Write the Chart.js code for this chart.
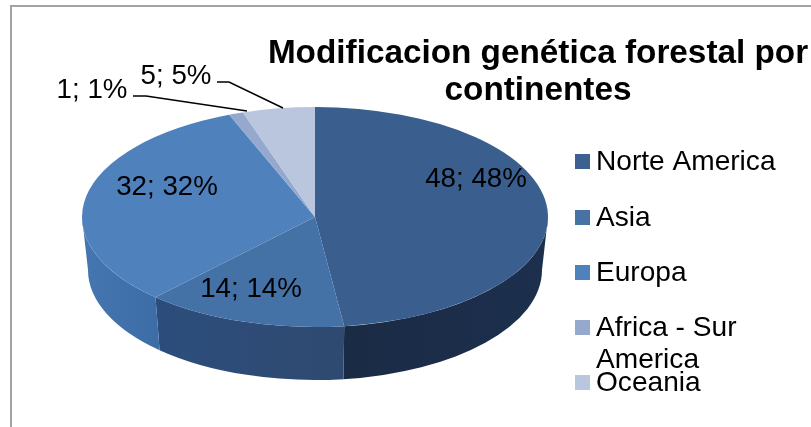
<!DOCTYPE html>
<html>
<head>
<meta charset="utf-8">
<script src="https://cdn.jsdelivr.net/npm/chart.js@4"></script>
<style>
html,body{margin:0;padding:0;background:#fff}
#wrap{position:relative;width:811px;height:427px}
</style>
</head>
<body>
<div id="wrap"><canvas id="c" width="811" height="427"></canvas></div>
<script>
const categories = ['Norte America', 'Asia', 'Europa', 'Africa - Sur America', 'Oceania'];
const legendLines = [['Norte America'], ['Asia'], ['Europa'], ['Africa - Sur', 'America'], ['Oceania']];
const values = [48, 14, 32, 1, 5];
const topColors = ['#3a5f8f', '#4472a7', '#4f81bd', '#95a9cf', '#b9c6de'];
const legendColors = ['#3c6090', '#4672a6', '#4f81bd', '#95a9cf', '#b9c6de'];
const titleLines = ['Modificacion genética forestal por', 'continentes'];

const FONT = '"Liberation Sans", Arial, sans-serif';
const RX = 233, RY = 110, DEPTH = 53, RX_LOW = 227;
const labelSpots = [[476, 187], [251, 297], [167, 195], [92, 98], [176, 84]];
const leaders = [null, null, null, [[133, 96], [146, 96], [247, 111]], [[217, 82], [229, 82], [283, 108]]];
const legendRows = [169, 225, 280, 335, 390];
const wallStops = [
  [[0, '#1c2f4d'], [1, '#1a2b45']],
  [[0, '#2f4a70'], [1, '#2c4d7c']],
  [[0, '#3d6da6'], [1, '#4676b0']]
];

const pseudo3d = {
  id: 'pseudo3d',
  beforeDatasetsDraw(chart) {
    const ctx = chart.ctx, arcs = chart.getDatasetMeta(0).data;
    const cx = arcs[0].x, cy = arcs[0].y, sx = RX / arcs[0].outerRadius;
    ctx.save();
    ctx.strokeStyle = '#a3a3a3';
    ctx.lineWidth = 2;
    ctx.beginPath();
    ctx.moveTo(11, 427); ctx.lineTo(11, 6); ctx.lineTo(811, 6);
    ctx.stroke();
    arcs.forEach((arc, i) => {
      const a0 = Math.max(arc.startAngle, 0), a1 = Math.min(arc.endAngle, Math.PI);
      if (a1 <= a0 || !wallStops[i]) return;
      const x0 = cx + RX * Math.cos(a0), x1 = cx + RX * Math.cos(a1);
      const g = ctx.createLinearGradient(x0, 0, x1, 0);
      wallStops[i].forEach(s => g.addColorStop(s[0], s[1]));
      ctx.fillStyle = g;
      ctx.beginPath();
      ctx.ellipse(cx, cy, RX, RY, 0, a0, a1, false);
      ctx.ellipse(cx, cy + DEPTH, RX_LOW, RY, 0, a1, a0, true);
      ctx.closePath();
      ctx.fill();
    });
    ctx.restore();
    ctx.save();
    ctx.translate(cx, cy);
    ctx.scale(sx, 1);
    ctx.translate(-cx, -cy);
  },
  afterDatasetsDraw(chart) {
    const ctx = chart.ctx;
    ctx.restore();
    ctx.save();
    ctx.fillStyle = '#000';
    ctx.textBaseline = 'alphabetic';

    ctx.textAlign = 'center';
    ctx.font = 'bold 33.3px ' + FONT;
    ctx.fillText(titleLines[0], 538, 63);
    ctx.fillText(titleLines[1], 538, 100);

    ctx.font = '27.7px ' + FONT;
    values.forEach((v, i) => {
      ctx.fillText(v + '; ' + v + '%', labelSpots[i][0], labelSpots[i][1]);
      const l = leaders[i];
      if (l) {
        ctx.strokeStyle = '#000';
        ctx.lineWidth = 1.5;
        ctx.beginPath();
        l.forEach((p, k) => k ? ctx.lineTo(p[0], p[1]) : ctx.moveTo(p[0], p[1]));
        ctx.stroke();
      }
    });

    ctx.textAlign = 'left';
    ctx.font = '28.1px ' + FONT;
    legendLines.forEach((lines, i) => {
      const b = legendRows[i];
      ctx.fillStyle = legendColors[i];
      ctx.fillRect(575, b - 15, 15, 15);
      ctx.fillStyle = '#000';
      lines.forEach((t, k) => ctx.fillText(t, 596, b + 1 + k * 32));
    });
    ctx.restore();
  }
};

new Chart(document.getElementById('c'), {
  type: 'pie',
  data: {
    labels: categories,
    datasets: [{ data: values, backgroundColor: topColors, borderWidth: 0, clip: false }]
  },
  options: {
    responsive: false,
    animation: false,
    layout: { padding: { left: 205, right: 386, top: 107, bottom: 100 } },
    plugins: { legend: { display: false }, title: { display: false }, tooltip: { enabled: false } }
  },
  plugins: [pseudo3d]
});
</script>
</body>
</html>
